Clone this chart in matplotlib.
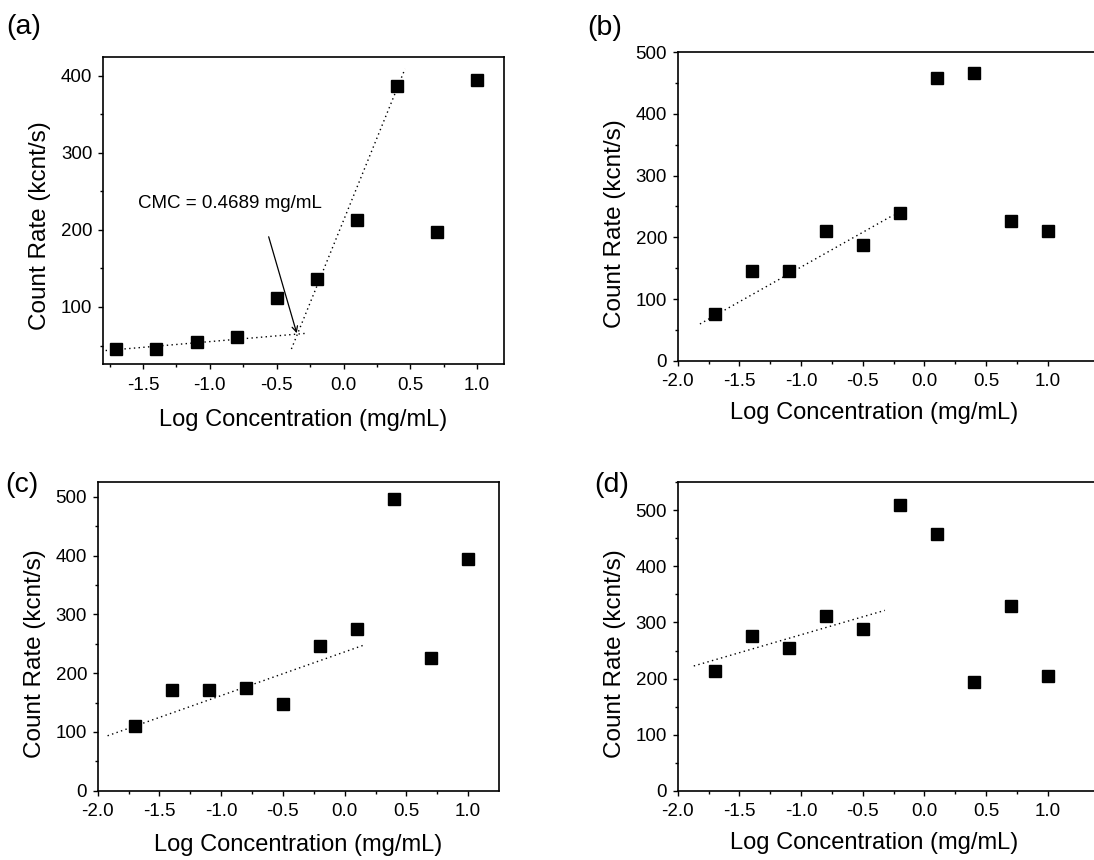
import matplotlib
matplotlib.use('Agg')
import matplotlib.pyplot as plt
import numpy as np
from matplotlib.ticker import MultipleLocator, FixedLocator

plt.rcParams['font.family'] = ['Liberation Sans', 'DejaVu Sans']

log_conc = [-1.7, -1.4, -1.1, -0.8, -0.5, -0.2, 0.1, 0.4, 0.7, 1.0]

rate_a = [45.5, 45, 54, 61, 111, 136, 213, 387, 197, 394]
rate_b = [76, 146, 146, 211, 188, 239, 458, 466, 227, 211]
rate_c = [110, 171, 171, 174, 147, 246, 276, 497, 226, 395]
rate_d = [213, 275, 255, 311, 288, 509, 458, 193, 329, 205]

# fitted lines: (x0, x1), (y0, y1)
fit_a_low = ([-1.78, -0.28], [43.5, 65.8])
fit_a_high = ([-0.39, 0.46], [45.5, 408.6])
fit_b = ([-1.82, -0.25], [59.5, 236.2])
fit_c = ([-1.92, 0.17], [93.5, 248.9])
fit_d = ([-1.87, -0.32], [222.4, 321.6])

cmc_text = 'CMC = 0.4689 mg/mL'
xlabel = 'Log Concentration (mg/mL)'
ylabel = 'Count Rate (kcnt/s)'

fig = plt.figure(figsize=(10.94, 8.6), dpi=100)

panels = [
    # label, rect, data, fits, xlim, ylim, label positions
    ('(a)', [0.0941, 0.5767, 0.3665, 0.357], rate_a, [fit_a_low, fit_a_high],
     (-1.8, 1.2), (26, 424), (-0.157, 0.45), (0.5, -0.182), (24, 27.5)),
    ('(b)', [0.6195, 0.5806, 0.3832, 0.3586], rate_b, [fit_b],
     (-2.0, 1.4), (0, 500), (-0.150, 0.443), (0.469, -0.169), (604.5, 28)),
    ('(c)', [0.0893, 0.0806, 0.3668, 0.3586], rate_c, [fit_c],
     (-2.0, 1.25), (0, 525), (-0.156, 0.443), (0.5, -0.175), (22, 485)),
    ('(d)', [0.6195, 0.0806, 0.3832, 0.3586], rate_d, [fit_d],
     (-2.0, 1.4), (0, 550), (-0.150, 0.443), (0.469, -0.169), (612, 485)),
]

axes = []
for name, rect, rates, fits, xlim, ylim, ylab_pos, xlab_pos, tag_pos in panels:
    ax = fig.add_axes(rect)
    axes.append(ax)
    for fx, fy in fits:
        ax.plot(fx, fy, color='black', lw=1.0, linestyle=(0, (1, 2.4)))
    ax.plot(log_conc, rates, linestyle='none', marker='s', markersize=8.2,
            color='black', clip_on=False)

    ax.set_xlim(*xlim)
    ax.set_ylim(*ylim)
    ax.xaxis.set_major_locator(MultipleLocator(0.5))
    ax.xaxis.set_minor_locator(FixedLocator(np.arange(-1.75, 1.2, 0.5)))
    ax.yaxis.set_major_locator(MultipleLocator(100))
    ax.yaxis.set_minor_locator(MultipleLocator(50))
    ax.xaxis.set_major_formatter(plt.FuncFormatter(lambda v, p: f'{v:.1f}'))
    ax.yaxis.set_major_formatter(plt.FuncFormatter(lambda v, p: f'{v:.0f}'))

    ax.tick_params(which='major', direction='out', length=3.6, width=1.0,
                   labelsize=13.5, top=False, right=False)
    ax.tick_params(which='minor', direction='out', length=2.2, width=1.0,
                   top=False, right=False)
    ax.tick_params(axis='x', which='major', pad=5.5)
    ax.tick_params(axis='y', which='major', pad=4.0)
    for sp in ax.spines.values():
        sp.set_linewidth(1.2)

    ax.set_xlabel(xlabel, fontsize=17)
    ax.set_ylabel(ylabel, fontsize=17.5)
    ax.xaxis.label.set_va('center')
    ax.yaxis.label.set_va('center')
    ax.xaxis.set_label_coords(*xlab_pos)
    ax.yaxis.set_label_coords(*ylab_pos)

    fig.text(tag_pos[0] / 1094, 1 - tag_pos[1] / 860, name, fontsize=20.5,
             ha='center', va='center')

ax_a = axes[0]
ax_a.annotate('', xy=(-0.35, 66), xytext=(-0.56, 191),
              arrowprops=dict(arrowstyle='->', lw=0.9, color='black',
                              mutation_scale=10, shrinkA=0, shrinkB=0))
ax_a.text(-1.54, 233.6, cmc_text, fontsize=13.5, ha='left', va='center')

fig.savefig('out.png', dpi=100)
